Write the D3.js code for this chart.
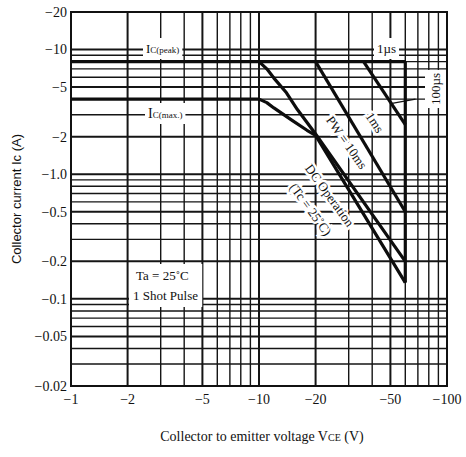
<!DOCTYPE html>
<html>
<head>
<meta charset="utf-8">
<script src="https://cdn.jsdelivr.net/npm/d3@7"></script>
<style>
  body { margin: 0; background: #fff; }
  text { font-family: "Liberation Serif", "DejaVu Serif", serif; fill: #111; }
</style>
</head>
<body>
<div id="chart"></div>
<script>
const widthChart = 466;
const heightChart = 457;

// axis ticks
const xTickVals = [-1, -2, -5, -10, -20, -50, -100];
const xTickLabels = ["\u22121", "\u22122", "\u22125", "\u221210", "\u221220", "\u221250", "\u2212100"];
const yTickVals = [-20, -10, -5, -2, -1, -0.5, -0.2, -0.1, -0.05, -0.02];
const yTickLabels = ["\u221220", "\u221210", "\u22125", "\u22122", "\u22121.0", "\u22120.5", "\u22120.2", "\u22120.1", "\u22120.05", "\u22120.02"];

// limits
const icPeak = -8;
const icMax = -4;
const vceo = -60;

// SOA curves (V, A)
const v100us = [-36, -60];
const i100us = [-8, -2.5];
const v1ms = [-20, -60];
const i1ms = [-8, -0.5];
const v10ms = [-10, -11, -12, -14, -16, -20, -60];
const i10ms = [-8, -7, -5.9, -4.5, -3.3, -2.1, -0.2];
const vDC = [-10, -11, -12, -15, -18, -20, -60];
const iDC = [-4, -3.75, -3.4, -2.7, -2.25, -2.05, -0.135];

const svg = d3.select("#chart")
    .append("svg")
    .attr("width", widthChart)
    .attr("height", heightChart);

const x = d3.scaleLog().domain([-1, -100]).range([71, 447]);
const y = d3.scaleLog().domain([-0.02, -20]).range([386, 12]);

// grid lines (1..9 per decade)
var gridX = [];
for (let e = 0; e < 2; e++) for (let m = 1; m < 10; m++) gridX.push({v: -m * Math.pow(10, e), m: m});
gridX.push({v: -100, m: 1});
var gridY = [];
for (let e = -2; e < 2; e++) for (let m = 1; m < 10; m++) {
    var v = m * Math.pow(10, e);
    if (v >= 0.0199 && v <= 20.01) gridY.push({v: -v, m: m});
}
const isMajor = d => d.m == 1 || d.m == 2 || d.m == 5;

const grid = svg.append("g").attr("stroke", "#151515");
grid.selectAll(".gx").data(gridX).enter().append("line")
    .attr("x1", d => x(d.v)).attr("x2", d => x(d.v))
    .attr("y1", y(-20)).attr("y2", y(-0.02))
    .attr("stroke-width", d => isMajor(d) ? 2 : 1.4);
grid.selectAll(".gy").data(gridY).enter().append("line")
    .attr("y1", d => y(d.v)).attr("y2", d => y(d.v))
    .attr("x1", x(-1)).attr("x2", x(-100))
    .attr("stroke-width", d => isMajor(d) ? 2 : 1.4);

svg.append("rect")
    .attr("x", x(-1)).attr("y", y(-20))
    .attr("width", x(-100) - x(-1)).attr("height", y(-0.02) - y(-20))
    .attr("fill", "none").attr("stroke", "#111").attr("stroke-width", 2);

// labels with white backgrounds (break the grid like the print)
const labels = svg.append("g");
function boxed(g, pad) {
    var b = g.node().getBBox();
    g.insert("rect", ":first-child")
        .attr("x", b.x - pad).attr("y", b.y - pad)
        .attr("width", b.width + 2 * pad).attr("height", b.height + 2 * pad)
        .attr("fill", "#fff");
}

var peak = labels.append("g");
var tp = peak.append("text").attr("x", 146).attr("y", 53).style("font-size", "13px");
tp.append("tspan").text("I");
tp.append("tspan").style("font-size", "9px").text("C(peak)");
boxed(peak, 3);

var imax = labels.append("g");
var tm = imax.append("text").attr("x", 148).attr("y", 118).style("font-size", "14px");
tm.append("tspan").text("I");
tm.append("tspan").style("font-size", "9px").text("C(max.)");
boxed(imax, 3);

var us1 = labels.append("g");
us1.append("text").attr("x", 377).attr("y", 53).style("font-size", "13px").text("1\u00b5s");
boxed(us1, 3);

var ta = labels.append("g");
ta.append("text").attr("x", 136).attr("y", 280).style("font-size", "13px").text("Ta = 25\u02daC");
ta.append("text").attr("x", 133).attr("y", 300).style("font-size", "13px").text("1 Shot Pulse");
boxed(ta, 4);

var us100 = labels.append("g").attr("transform", "translate(440,89) rotate(-90)");
us100.append("text").attr("text-anchor", "middle").style("font-size", "13px").text("100\u00b5s");
boxed(us100, 3);

function slanted(tx, ty, ang, str) {
    labels.append("text")
        .attr("transform", "translate(" + tx + "," + ty + ") rotate(" + ang + ")")
        .attr("text-anchor", "middle")
        .style("font-size", "13px")
        .attr("stroke", "#fff").attr("stroke-width", 5)
        .attr("paint-order", "stroke")
        .text(str);
}
slanted(371, 125, 57, "1ms");
slanted(343, 145, 55, "PW = 10ms");
slanted(326, 198, 54, "DC Operation");
slanted(307, 212, 54, "(Tc = 25\u02daC)");

// leader for 100us
svg.append("line")
    .attr("x1", x(-51)).attr("y1", y(-3.7))
    .attr("x2", x(-68)).attr("y2", y(-4.0))
    .attr("stroke", "#111").attr("stroke-width", 1.3);

// limit lines and curves
const line = d3.line().x(d => x(d[0])).y(d => y(d[1]));
const curves = [
    d3.zip([-1, vceo], [icPeak, icPeak]),
    d3.zip([-1, -10], [icMax, icMax]),
    d3.zip([vceo, vceo], [icPeak, iDC[iDC.length - 1]]),
    d3.zip(v100us, i100us),
    d3.zip(v1ms, i1ms),
    d3.zip(v10ms, i10ms),
    d3.zip(vDC, iDC)
];
svg.append("g").selectAll("path").data(curves).enter().append("path")
    .attr("d", line)
    .attr("fill", "none")
    .attr("stroke", "#0d0d0d")
    .attr("stroke-width", 3.2)
    .attr("stroke-linejoin", "round");

// tick labels
svg.selectAll(".ylab").data(yTickVals).enter().append("text")
    .attr("x", 67).attr("y", d => y(d)).attr("dy", "0.35em")
    .attr("text-anchor", "end").style("font-size", "14px")
    .text((d, i) => yTickLabels[i]);
svg.selectAll(".xlab").data(xTickVals).enter().append("text")
    .attr("x", d => x(d)).attr("y", 404)
    .attr("text-anchor", "middle").style("font-size", "14px")
    .text((d, i) => xTickLabels[i]);

// axis titles
var xt = svg.append("text").attr("x", 262).attr("y", 441)
    .attr("text-anchor", "middle").style("font-size", "14px");
xt.append("tspan").text("Collector to emitter voltage  V");
xt.append("tspan").style("font-size", "10px").text("CE");
xt.append("tspan").text(" (V)");

svg.append("text")
    .attr("transform", "translate(21,199) rotate(-90)")
    .attr("text-anchor", "middle")
    .style("font-family", "'Liberation Sans', Arial, sans-serif")
    .style("font-size", "13px")
    .text("Collector current  Ic (A)");
</script>
</body>
</html>
